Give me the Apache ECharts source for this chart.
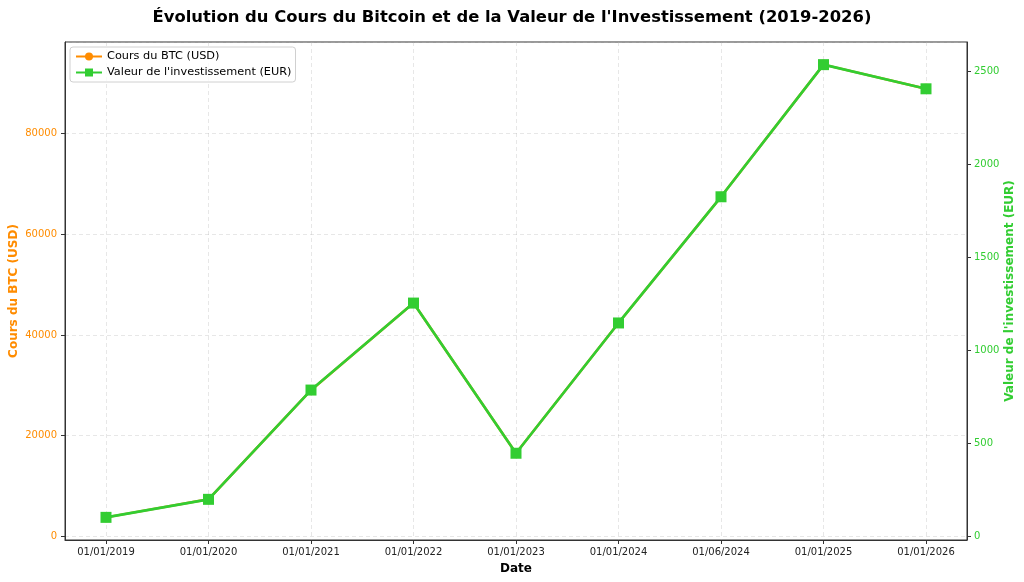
<!DOCTYPE html>
<html>
<head>
<meta charset="utf-8">
<script src="https://cdn.jsdelivr.net/npm/echarts@6/dist/echarts.min.js"></script>
<style>
  html, body { margin: 0; padding: 0; background: #fff; }
  #chart { width: 1024px; height: 582px; }
</style>
</head>
<body>
<div id="chart"></div>
<script>
const dates = ['01/01/2019', '01/01/2020', '01/01/2021', '01/01/2022', '01/01/2023',
  '01/01/2024', '01/06/2024', '01/01/2025', '01/01/2026']
const btcPrices = [3780, 7360, 29050, 46370, 16520, 42390, 67460, 93730, 88950]
const investValues = [102, 199, 787, 1255, 447, 1148, 1827, 2538, 2408]

const orange = '#ff8c00'
const green = '#32cd32'
const font = 'DejaVu Sans'

// matplotlib style 5% margins around the data
const pad = (arr) => {
  const lo = Math.min(...arr), hi = Math.max(...arr)
  const m = (hi - lo) * 0.05
  return [lo - m, hi + m]
}
const btcRange = pad(btcPrices)
const invRange = pad(investValues)

const chart = echarts.init(document.getElementById('chart'))

const gridLine = { show: true, lineStyle: { color: '#b0b0b0', opacity: 0.3, type: [4, 3], width: 1 } }
const isInt = (v) => Math.abs(v - Math.round(v)) < 1e-6

// rotated axis titles, placed by hand (name placement in v6 kept drifting to the edge)
const axisTitle = (text, x, color) => ({
  type: 'text',
  x: x,
  y: 291,
  rotation: Math.PI / 2,
  style: {
    text: text, x: 0, y: 0, align: 'center', verticalAlign: 'middle',
    fill: color, font: 'bold 12px "DejaVu Sans"',
  },
})

chart.setOption({
  animation: false,
  backgroundColor: '#fff',
  title: {
    text: "Évolution du Cours du Bitcoin et de la Valeur de l'Investissement (2019-2026)",
    left: 'center',
    top: 5,
    textStyle: { fontFamily: font, fontSize: 16.4, fontWeight: 'bold', color: '#000' },
  },
  legend: {
    left: 70,
    top: 47,
    orient: 'vertical',
    itemWidth: 26,
    itemHeight: 10,
    itemGap: 5,
    padding: [4, 4, 4, 5],
    borderColor: '#d0d0d0',
    borderWidth: 1,
    borderRadius: 3,
    backgroundColor: 'rgba(255,255,255,0.8)',
    textStyle: { fontFamily: font, fontSize: 11.3, color: '#000' },
    data: ['Cours du BTC (USD)', "Valeur de l'investissement (EUR)"],
  },
  graphic: [
    axisTitle('Cours du BTC (USD)', 14, orange),
    axisTitle("Valeur de l'investissement (EUR)", 1010, green),
  ],
  grid: {
    left: 65, right: 57, top: 42, bottom: 42,
    outerBoundsMode: 'none',
    containLabel: false,
    show: true, borderColor: '#333', borderWidth: 1,
  },
  xAxis: {
    type: 'value',
    min: -0.4,
    max: dates.length - 1 + 0.4,
    splitNumber: 9,
    name: 'Date',
    nameLocation: 'middle',
    nameGap: 23,
    nameTextStyle: { fontFamily: font, fontSize: 12, fontWeight: 'bold', color: '#000' },
    axisLine: { show: true, onZero: false, lineStyle: { color: '#333' } },
    axisTick: { show: true, length: 4, lineStyle: { color: '#333' } },
    axisLabel: {
      fontFamily: font, fontSize: 10, color: '#222', margin: 7,
      showMinLabel: false, showMaxLabel: false,
      formatter: (v) => (isInt(v) ? dates[Math.round(v)] || '' : ''),
    },
    splitLine: gridLine,
  },
  yAxis: [
    {
      type: 'value',
      min: btcRange[0],
      max: btcRange[1],
      splitNumber: 5,
      axisLine: { show: true, onZero: false, lineStyle: { color: '#333' } },
      axisTick: { show: true, length: 4, lineStyle: { color: '#333' } },
      axisLabel: {
        fontFamily: font, fontSize: 10, color: orange, margin: 8,
        showMinLabel: false, showMaxLabel: false,
        formatter: (v) => (v % 20000 === 0 ? String(v) : ''),
      },
      splitLine: gridLine,
    },
    {
      type: 'value',
      min: invRange[0],
      max: invRange[1],
      splitNumber: 5,
      axisLine: { show: true, onZero: false, lineStyle: { color: '#333' } },
      axisTick: { show: true, length: 4, lineStyle: { color: '#333' } },
      axisLabel: {
        fontFamily: font, fontSize: 10, color: green, margin: 7,
        showMinLabel: false, showMaxLabel: false,
        formatter: (v) => (v % 500 === 0 ? String(v) : ''),
      },
      splitLine: { show: false },
    },
  ],
  series: [
    {
      name: 'Cours du BTC (USD)',
      type: 'line',
      yAxisIndex: 0,
      data: btcPrices.map((v, i) => [i, v]),
      symbol: 'circle',
      symbolSize: 10,
      lineStyle: { color: orange, width: 2.5 },
      itemStyle: { color: orange },
    },
    {
      name: "Valeur de l'investissement (EUR)",
      type: 'line',
      yAxisIndex: 1,
      data: investValues.map((v, i) => [i, v]),
      symbol: 'rect',
      symbolSize: 11,
      lineStyle: { color: green, width: 2.7 },
      itemStyle: { color: green },
      z: 3,
    },
  ],
})
</script>
</body>
</html>
